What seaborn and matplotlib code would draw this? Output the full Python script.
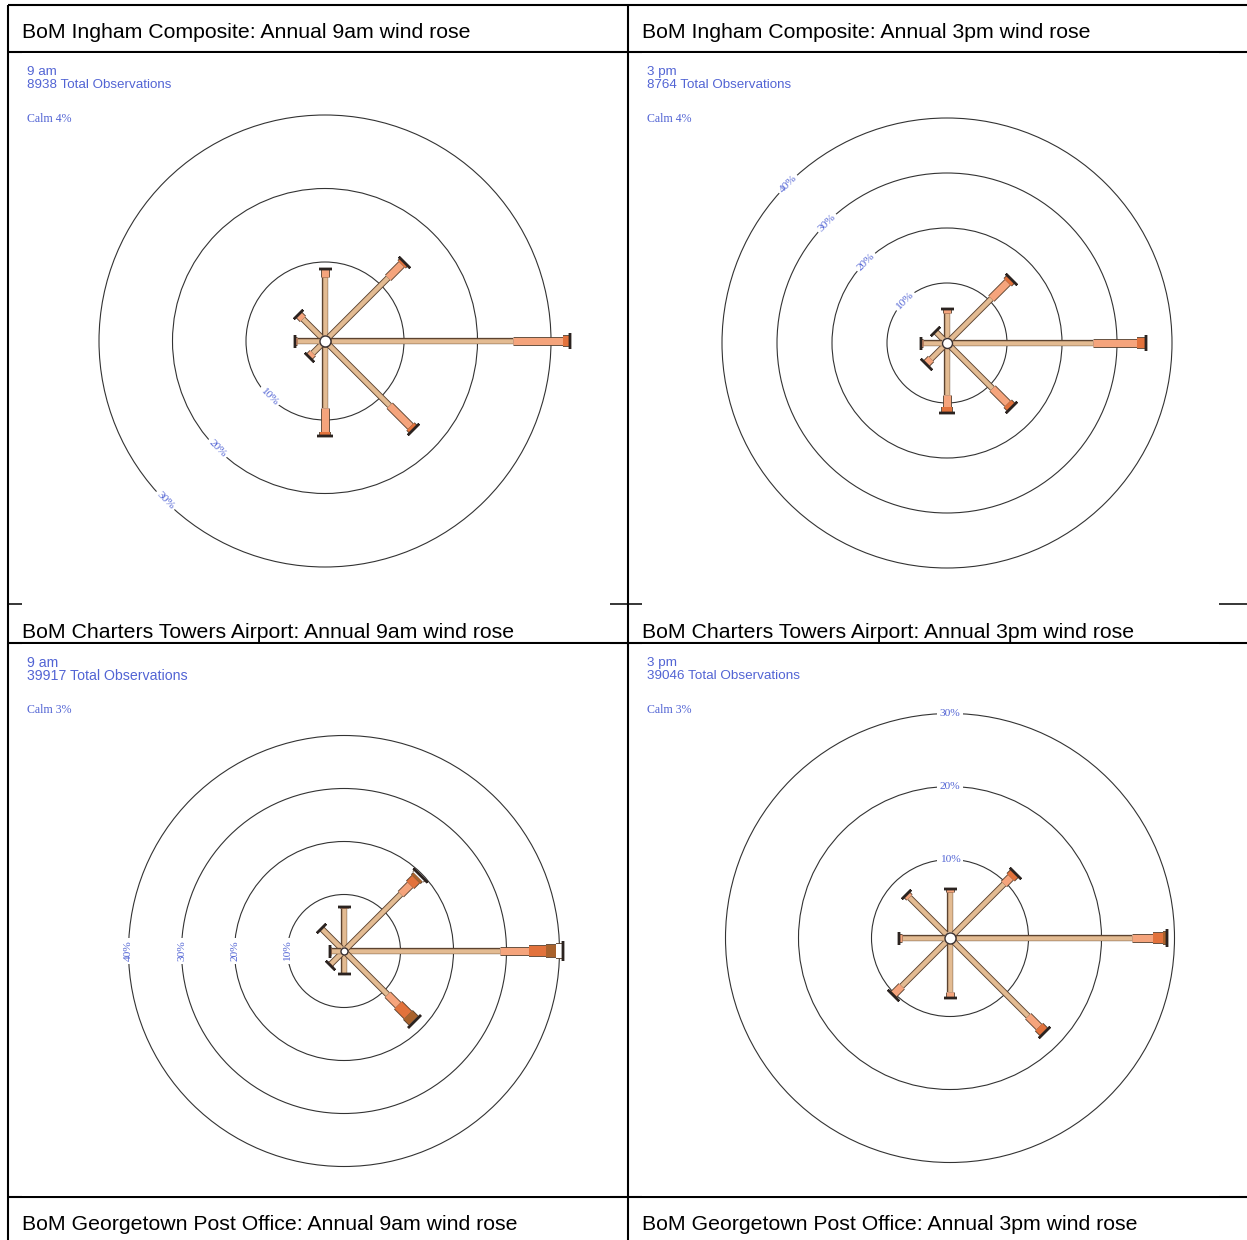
import matplotlib
matplotlib.use("Agg")
import matplotlib.pyplot as plt
import matplotlib.patheffects as pe
from matplotlib.patches import Circle
import numpy as np
import pandas as pd
import seaborn as sns

# wind directions and speed classes used by the BoM roses
directions = ["N", "NE", "E", "SE", "S", "SW", "W", "NW"]
bearings = [0, 45, 90, 135, 180, 225, 270, 315]
speed_classes = [">0-10", ">10-20", ">20-30", ">30-40", ">40"]

# % of observations per direction (rows, N..NW) and speed class (columns)
ingham_9am = [
    [7.9, 1.1, 0.0, 0.0, 0.0],
    [11.4, 2.6, 0.4, 0.0, 0.0],
    [24.8, 6.9, 0.9, 0.0, 0.0],
    [11.7, 4.0, 0.5, 0.0, 0.0],
    [8.3, 3.4, 0.5, 0.0, 0.0],
    [1.6, 0.7, 0.0, 0.0, 0.0],
    [3.1, 0.2, 0.0, 0.0, 0.0],
    [3.5, 0.9, 0.0, 0.0, 0.0],
]
ingham_3pm = [
    [4.5, 0.8, 0.0, 0.0, 0.0],
    [10.5, 4.2, 0.9, 0.0, 0.0],
    [25.6, 8.0, 1.7, 0.0, 0.0],
    [10.8, 3.9, 0.8, 0.0, 0.0],
    [8.5, 2.2, 1.1, 0.0, 0.0],
    [3.2, 1.1, 0.2, 0.0, 0.0],
    [3.4, 0.4, 0.0, 0.0, 0.0],
    [2.0, 0.2, 0.0, 0.0, 0.0],
]
charters_9am = [
    [7.5, 0.2, 0.0, 0.0, 0.0],
    [14.5, 2.5, 1.5, 0.6, 0.5],
    [28.7, 5.5, 3.3, 1.9, 1.2],
    [11.0, 2.8, 2.6, 1.5, 0.0],
    [3.4, 0.2, 0.0, 0.0, 0.0],
    [2.8, 0.2, 0.0, 0.0, 0.0],
    [1.8, 0.1, 0.0, 0.0, 0.0],
    [5.2, 0.3, 0.0, 0.0, 0.0],
]
charters_3pm = [
    [5.6, 0.3, 0.0, 0.0, 0.0],
    [9.7, 1.3, 0.9, 0.0, 0.0],
    [24.2, 2.9, 1.3, 0.6, 0.0],
    [14.4, 2.1, 0.9, 0.0, 0.0],
    [6.7, 0.7, 0.0, 0.0, 0.0],
    [8.6, 1.5, 0.2, 0.0, 0.0],
    [5.8, 0.5, 0.0, 0.0, 0.0],
    [7.1, 0.7, 0.0, 0.0, 0.0],
]

headers = [
    "BoM Ingham Composite: Annual 9am wind rose",
    "BoM Ingham Composite: Annual 3pm wind rose",
    "BoM Charters Towers Airport: Annual 9am wind rose",
    "BoM Charters Towers Airport: Annual 3pm wind rose",
    "BoM Georgetown Post Office: Annual 9am wind rose",
    "BoM Georgetown Post Office: Annual 3pm wind rose",
]
times = ["9 am", "3 pm", "9 am", "3 pm"]
total_obs = [8938, 8764, 39917, 39046]
calm_pct = [4, 4, 3, 3]
ring_pcts = [[10, 20, 30], [10, 20, 30, 40], [10, 20, 30, 40], [10, 20, 30]]

# styling
class_colors = dict(zip(speed_classes, ["#e3bb92", "#f5a47c", "#e2723c", "#a9622c", "#ffffff"]))
class_width_px = dict(zip(speed_classes, [4.5, 7, 10, 12, 14]))
outline = "#5c4330"
blue = "#5264d4"
serif = ["Liberation Serif", "DejaVu Serif"]

W, H, DPI = 1247, 1240, 100
PT = 72 / DPI

sns.set_theme(style="white")
plt.rcParams["font.family"] = ["Liberation Sans", "DejaVu Sans"]

fig = plt.figure(figsize=(W / DPI, H / DPI), dpi=DPI)

# table grid behind the rose images (pixel coordinates)
bg = fig.add_axes([0, 0, 1, 1])
bg.set_xlim(0, W)
bg.set_ylim(H, 0)
bg.axis("off")
bg.hlines([5, 52, 643, 1197], 8, W, color="black", lw=1.5)
bg.hlines([604], 8, W, color="black", lw=1.1)
bg.vlines([8, 628], 5, H, color="black", lw=1.5)
header_pos = [(22, 32), (642, 32), (22, 632), (642, 632), (22, 1225), (642, 1225)]
for txt, (hx, hy) in zip(headers, header_pos):
    bg.text(hx, hy, txt, fontsize=15.3, va="center", ha="left", color="black")

# panel layout: image box (x0, y0, x1, y1), rose centre, px per %, hub radius, label bearing / rotation
panels = [
    dict(data=ingham_9am, box=(22, 53, 610, 606), centre=(325, 341), k=7.35, hub=5.5, lab=(225, -45), fs=9.6),
    dict(data=ingham_3pm, box=(642, 53, 1219, 606), centre=(947, 343), k=5.5, hub=5.0, lab=(315, 45), fs=9.6),
    dict(data=charters_9am, box=(22, 644, 610, 1196), centre=(344, 951), k=5.3, hub=3.5, lab=(270, 90), fs=10.2),
    dict(data=charters_3pm, box=(642, 644, 1219, 1196), centre=(950, 938), k=7.3, hub=5.5, lab=(0, 0), fs=9.7),
]


def draw_rose(ax, freq, r0, k):
    rows = []
    caps = []
    for d, b, row in zip(directions, bearings, freq):
        s, c = np.sin(np.radians(b)), np.cos(np.radians(b))
        cum = r0
        last = speed_classes[0]
        for cls, v in zip(speed_classes, row):
            if v <= 0:
                continue
            seg = f"{d}-{cls}"
            rows.append((seg, cls, cum * s, cum * c))
            rows.append((seg, cls, (cum + v) * s, (cum + v) * c))
            cum += v
            last = cls
        caps.append((cum * s, cum * c, b, last))
    df = pd.DataFrame(rows, columns=["seg", "speed", "x", "y"])
    sns.lineplot(data=df, x="x", y="y", units="seg", estimator=None, sort=False,
                 hue="speed", palette=class_colors, hue_order=speed_classes,
                 size="speed", sizes={c: v * PT for c, v in class_width_px.items()},
                 size_order=speed_classes, legend=False, ax=ax,
                 solid_capstyle="butt", zorder=3)
    for ln in ax.lines:
        ln.set_path_effects([pe.Stroke(linewidth=ln.get_linewidth() + 1.3, foreground=outline),
                             pe.Normal()])
    for x, y, b, last in caps:
        ax.plot([x], [y], marker=(2, 2, 90 - b), ms=(class_width_px[last] + 6) * PT,
                mew=2.4 * PT, color="#2b2320", zorder=4)
    ax.scatter([0], [0], s=(2 * r0 * k * PT) ** 2, facecolor="white",
               edgecolor="#3a3030", linewidth=1.0, zorder=5)


for i, p in enumerate(panels):
    x0, y0, x1, y1 = p["box"]
    cx, cy = p["centre"]
    k = p["k"]
    ax = fig.add_axes([x0 / W, 1 - y1 / H, (x1 - x0) / W, (y1 - y0) / H])
    ax.set_facecolor("white")
    ax.set_xlim((x0 - cx) / k, (x1 - cx) / k)
    ax.set_ylim((cy - y1) / k, (cy - y0) / k)
    r0 = p["hub"] / k

    # rings with their labels
    lb, lrot = p["lab"]
    for pct in ring_pcts[i]:
        ax.add_patch(Circle((0, 0), r0 + pct, fill=False, ec="#333333", lw=0.8, zorder=1))
        r = r0 + pct
        ax.text(r * np.sin(np.radians(lb)), r * np.cos(np.radians(lb)), f"{pct}%",
                rotation=lrot, rotation_mode="anchor", ha="center", va="center",
                fontsize=8.2, family=serif, color=blue,
                bbox=dict(boxstyle="square,pad=0.2", fc="white", ec="none"), zorder=2)

    draw_rose(ax, p["data"], r0, k)

    ax.annotate(times[i], xy=(0, 1), xycoords="axes fraction", xytext=(5, -19),
                textcoords="offset pixels", va="center", fontsize=p["fs"], color=blue)
    ax.annotate(f"{total_obs[i]} Total Observations", xy=(0, 1), xycoords="axes fraction",
                xytext=(5, -32), textcoords="offset pixels", va="center", fontsize=p["fs"], color=blue)
    ax.annotate(f"Calm {calm_pct[i]}%", xy=(0, 1), xycoords="axes fraction", xytext=(5, -66),
                textcoords="offset pixels", va="center", fontsize=8.6, color=blue, family=serif)

    ax.set_xticks([])
    ax.set_yticks([])
    ax.set_xlabel("")
    ax.set_ylabel("")
    sns.despine(ax=ax, left=True, bottom=True)

fig.savefig("out.png", dpi=DPI)
